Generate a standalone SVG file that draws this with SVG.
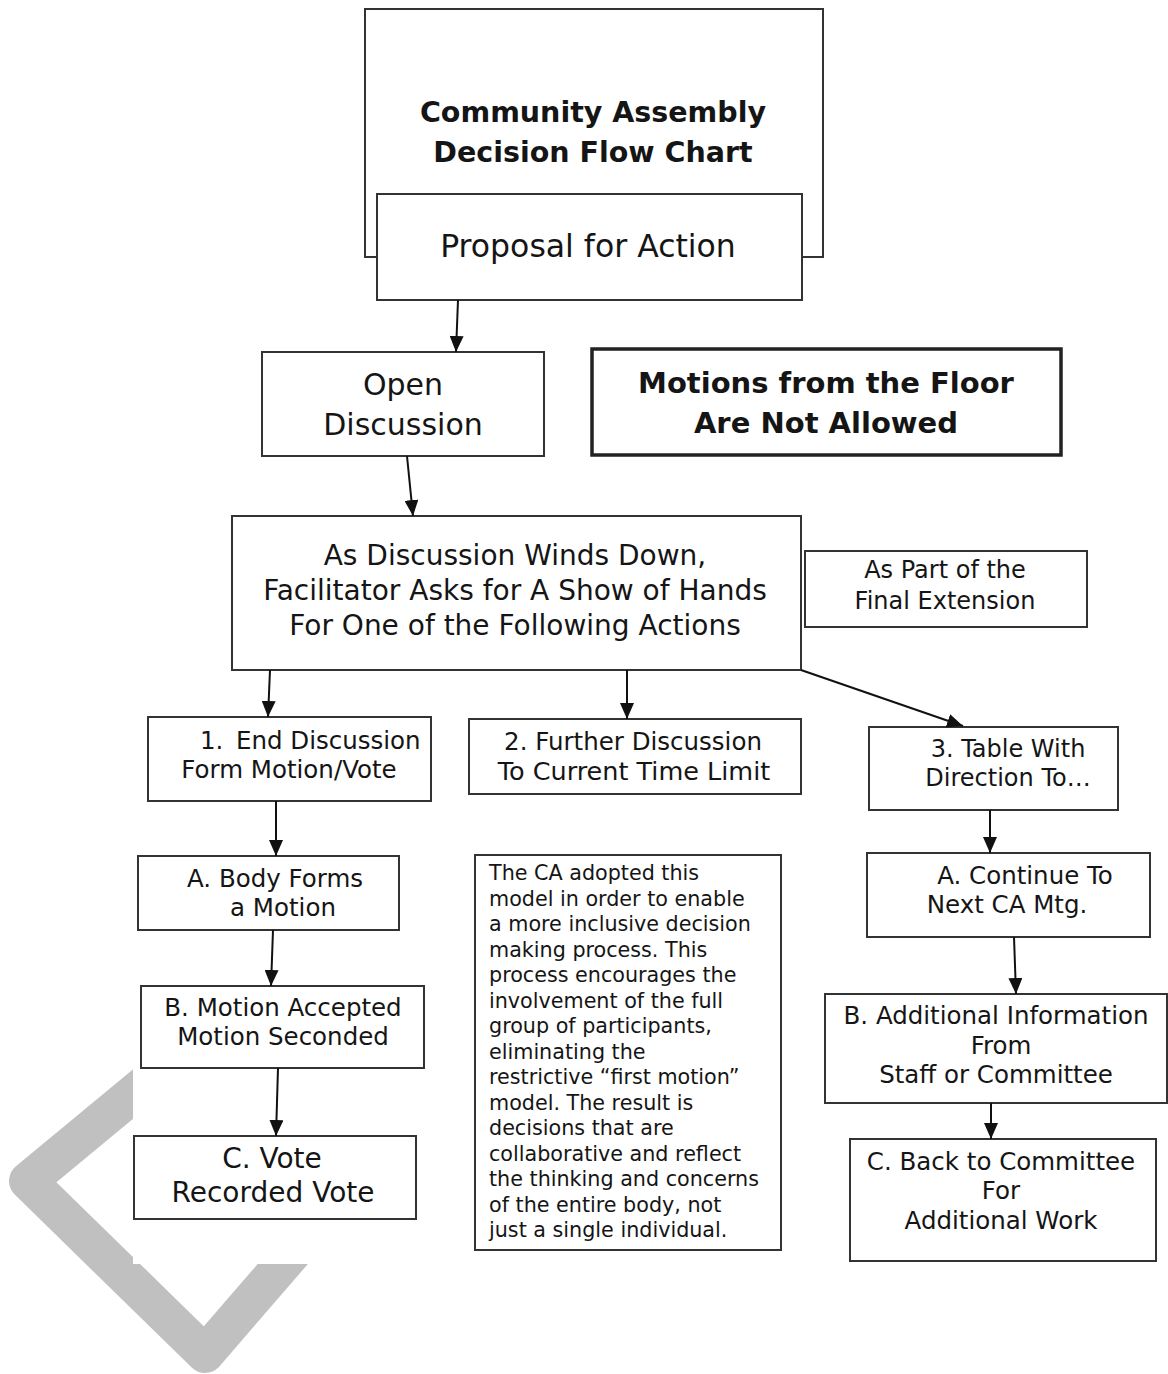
<svg xmlns="http://www.w3.org/2000/svg" width="1168" height="1374" viewBox="0 0 1168 1374">
<defs>
<marker id="ah" markerUnits="userSpaceOnUse" markerWidth="16" markerHeight="14" refX="16" refY="7" orient="auto">
<path d="M0,0 L16,7 L0,14 z" fill="#111"/>
</marker>
<style>
.box{fill:#fff;stroke:#333;stroke-width:2}
.thick{fill:#fff;stroke:#222;stroke-width:3.5}
.t{font-family:"DejaVu Sans",Verdana,sans-serif;fill:#151515;text-anchor:middle}
.b{font-weight:bold}
.l{text-anchor:start}
.c{stroke:#111;stroke-width:2;fill:none;marker-end:url(#ah)}
</style>
</defs>
<rect width="1168" height="1374" fill="#fff"/>
<g id="watermark">
<polyline points="167,1066 28,1181 205,1354 345,1192" fill="none" stroke="#c0c0c0" stroke-width="38" stroke-linejoin="round" stroke-linecap="round"/>
<rect x="133" y="0" width="1035" height="1264" fill="#fff"/>
</g>
<g id="title">
<rect class="box" x="365" y="9" width="458" height="248"/>
<text class="t b" x="593" y="122" font-size="28.5">Community Assembly</text>
<text class="t b" x="593" y="162" font-size="28.5">Decision Flow Chart</text>
</g>
<g id="proposal">
<rect class="box" x="377" y="194" width="425" height="106"/>
<text class="t" x="588" y="257" font-size="31.5">Proposal for Action</text>
</g>
<g id="open">
<rect class="box" x="262" y="352" width="282" height="104"/>
<text class="t" x="403" y="395" font-size="30">Open</text>
<text class="t" x="403" y="435" font-size="30">Discussion</text>
</g>
<g id="motions">
<rect class="thick" x="592" y="349" width="469" height="106"/>
<text class="t b" x="826" y="393" font-size="29">Motions from the Floor</text>
<text class="t b" x="826" y="433" font-size="29">Are Not Allowed</text>
</g>
<g id="winds">
<rect class="box" x="232" y="516" width="569" height="154"/>
<text class="t" x="515" y="565" font-size="28">As Discussion Winds Down,</text>
<text class="t" x="515" y="600" font-size="28">Facilitator Asks for A Show of Hands</text>
<text class="t" x="515" y="635" font-size="28">For One of the Following Actions</text>
</g>
<g id="final">
<rect class="box" x="805" y="551" width="282" height="76"/>
<text class="t" x="945" y="578" font-size="24">As Part of the</text>
<text class="t" x="945" y="609" font-size="24">Final Extension</text>
</g>
<g id="opt1">
<rect class="box" x="148" y="717" width="283" height="84"/>
<text class="t l" x="200" y="749" font-size="24.5">1.<tspan x="236">End Discussion</tspan></text>
<text class="t" x="289" y="778" font-size="24.5">Form Motion/Vote</text>
</g>
<g id="opt2">
<rect class="box" x="469" y="719" width="332" height="75"/>
<text class="t" x="633" y="750" font-size="24.5">2. Further Discussion</text>
<text class="t" x="634" y="780" font-size="25.5">To Current Time Limit</text>
</g>
<g id="opt3">
<rect class="box" x="869" y="727" width="249" height="83"/>
<text class="t" x="1008" y="757" font-size="24">3. Table With</text>
<text class="t" x="1008" y="786" font-size="24">Direction To…</text>
</g>
<g id="a1">
<rect class="box" x="138" y="856" width="261" height="74"/>
<text class="t" x="275" y="887" font-size="24.5">A. Body Forms</text>
<text class="t" x="283" y="916" font-size="24.5">a Motion</text>
</g>
<g id="b1">
<rect class="box" x="141" y="986" width="283" height="82"/>
<text class="t" x="283" y="1016" font-size="24.5">B. Motion Accepted</text>
<text class="t" x="283" y="1045" font-size="24.5">Motion Seconded</text>
</g>
<g id="c1">
<rect class="box" x="134" y="1136" width="282" height="83"/>
<text class="t" x="272" y="1168" font-size="28">C. Vote</text>
<text class="t" x="273" y="1202" font-size="28">Recorded Vote</text>
</g>
<g id="note">
<rect class="box" x="475" y="855" width="306" height="395"/>
<g class="t l" font-size="20.7">
<text x="489" y="880">The CA adopted this</text>
<text x="489" y="905.5">model in order to enable</text>
<text x="489" y="931">a more inclusive decision</text>
<text x="489" y="956.5">making process. This</text>
<text x="489" y="982">process encourages the</text>
<text x="489" y="1007.5">involvement of the full</text>
<text x="489" y="1033">group of participants,</text>
<text x="489" y="1058.5">eliminating the</text>
<text x="489" y="1084">restrictive “first motion”</text>
<text x="489" y="1109.5">model. The result is</text>
<text x="489" y="1135">decisions that are</text>
<text x="489" y="1160.5">collaborative and reflect</text>
<text x="489" y="1186">the thinking and concerns</text>
<text x="489" y="1211.5">of the entire body, not</text>
<text x="489" y="1237">just a single individual.</text>
</g>
</g>
<g id="a3">
<rect class="box" x="867" y="853" width="283" height="84"/>
<text class="t" x="1025" y="884" font-size="24.5">A. Continue To</text>
<text class="t" x="1007" y="913" font-size="24.5">Next CA Mtg.</text>
</g>
<g id="b3">
<rect class="box" x="825" y="994" width="342" height="109"/>
<text class="t" x="996" y="1024" font-size="24.5">B. Additional Information</text>
<text class="t" x="1001" y="1054" font-size="24.5">From</text>
<text class="t" x="996" y="1083" font-size="24.5">Staff or Committee</text>
</g>
<g id="c3">
<rect class="box" x="850" y="1139" width="306" height="122"/>
<text class="t" x="1001" y="1170" font-size="24.5">C. Back to Committee</text>
<text class="t" x="1001" y="1199" font-size="24.5">For</text>
<text class="t" x="1001" y="1229" font-size="24.5">Additional Work</text>
</g>
<g id="connectors">
<line class="c" x1="458" y1="300" x2="456" y2="352"/>
<line class="c" x1="407" y1="456" x2="413" y2="516"/>
<line class="c" x1="270" y1="670" x2="268" y2="717"/>
<line class="c" x1="627" y1="670" x2="627" y2="719"/>
<line class="c" x1="801" y1="670" x2="963" y2="726"/>
<line class="c" x1="276" y1="801" x2="276" y2="856"/>
<line class="c" x1="273" y1="930" x2="271" y2="986"/>
<line class="c" x1="278" y1="1068" x2="276" y2="1136"/>
<line class="c" x1="990" y1="810" x2="990" y2="853"/>
<line class="c" x1="1014" y1="937" x2="1016" y2="994"/>
<line class="c" x1="991" y1="1103" x2="991" y2="1139"/>
</g>
</svg>
